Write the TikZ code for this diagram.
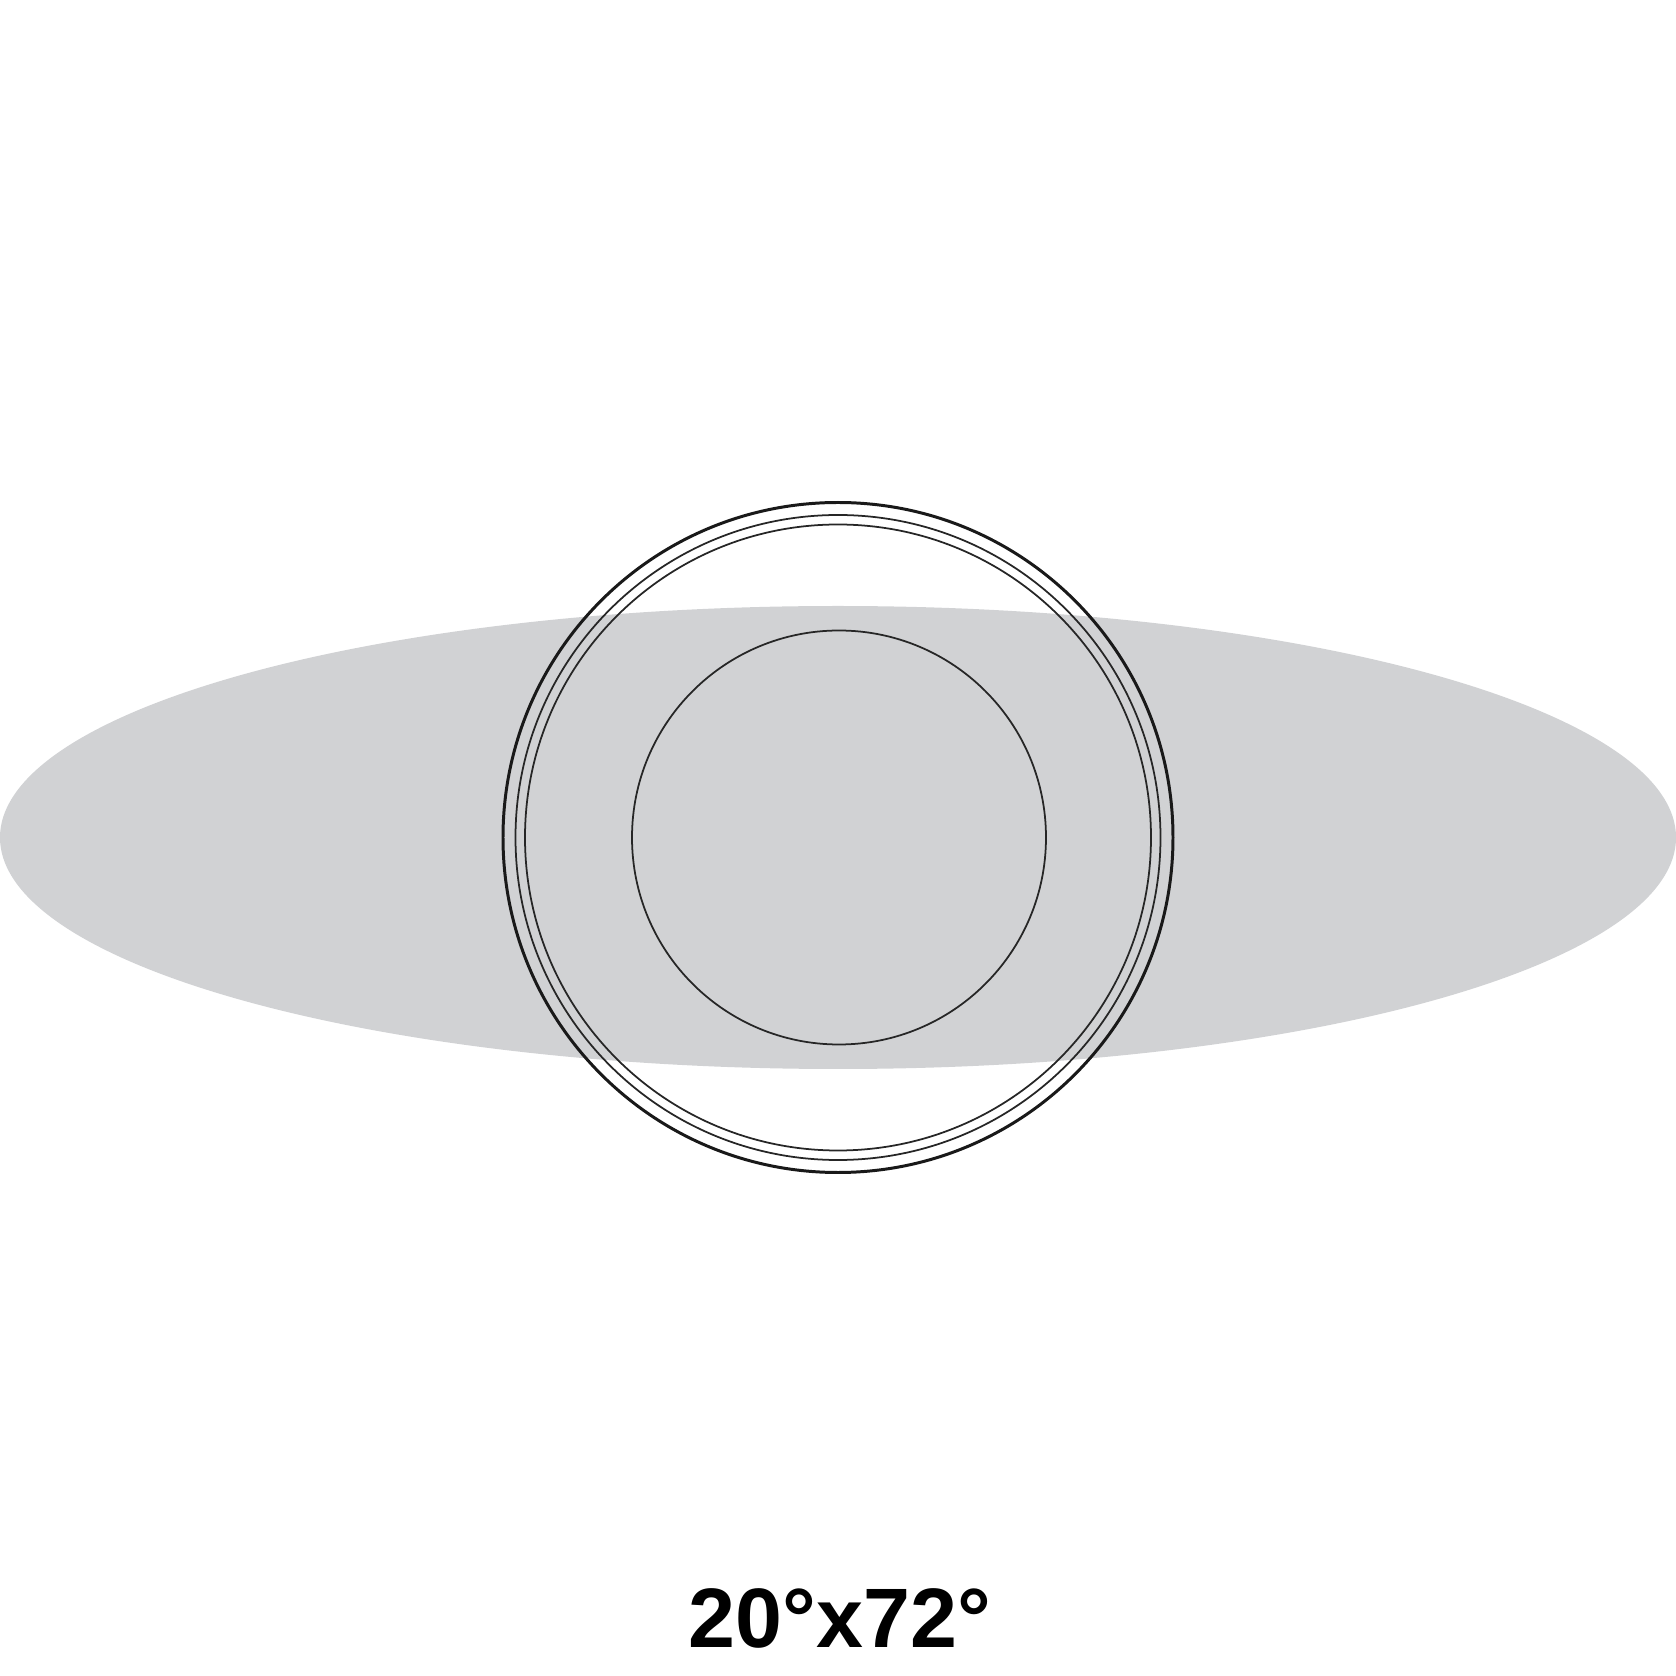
\documentclass[tikz,border=0pt]{standalone}
\usepackage{fontspec}
\setmainfont{Liberation Sans}
\definecolor{fieldgray}{RGB}{209,210,212}
\tikzset{
  ring/.style={draw=black!85, line width=0.5pt},
  thickring/.style={draw=black!90, line width=0.85pt},
  label/.style={font=\bfseries\fontsize{24}{29}\selectfont, anchor=base, inner sep=0pt}
}
\begin{document}
\begin{tikzpicture}
\useasboundingbox (0,0) rectangle (16.76,16.76);
\fill[fieldgray] (8.38,8.385) ellipse [x radius=8.38, y radius=2.315];
\draw[thickring] (8.38,8.385) circle [radius=3.35];
\draw[ring] (8.38,8.385) circle [radius=3.225];
\draw[ring] (8.38,8.385) circle [radius=3.13];
\draw[ring] (8.39,8.385) circle [radius=2.07];
\node[label] (fov) at (8.40,0.29) {20°x72°};
\end{tikzpicture}
\end{document}
